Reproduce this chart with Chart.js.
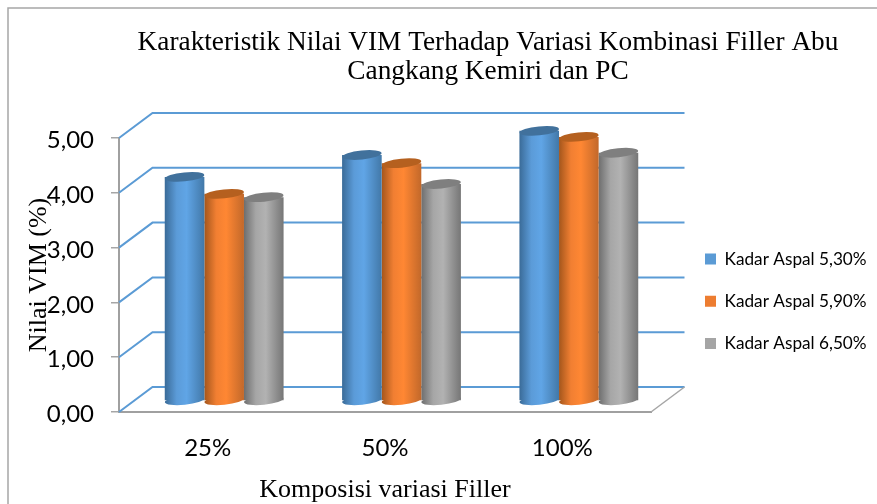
<!DOCTYPE html>
<html>
<head>
<meta charset="utf-8">
<script src="https://cdn.jsdelivr.net/npm/chart.js@4"></script>
<style>
  html, body { margin: 0; padding: 0; background: #fff; }
  canvas { display: block; }
</style>
</head>
<body>
<canvas id="ch-vim" width="877" height="504"></canvas>
<script>
const categories = ['25%', '50%', '100%'];
const seriesNames = ['Kadar Aspal 5,30%', 'Kadar Aspal 5,90%', 'Kadar Aspal 6,50%'];
const aspal530 = [4.09, 4.49, 4.93];
const aspal590 = [3.78, 4.34, 4.82];
const aspal650 = [3.72, 3.96, 4.53];
const yTickLabels = ['0,00', '1,00', '2,00', '3,00', '4,00', '5,00'];

const flatColors = ['#5b9bd5', '#ed7d31', '#a5a5a5'];
const capColors = ['#41719c', '#b5601f', '#7f7f7f'];
const cylStops = [
  ['#3a6b98', '#5b9bd8', '#60a5e6', '#4278a8'],
  ['#a4561c', '#f17f32', '#ff8733', '#c2682a'],
  ['#6e6e6e', '#a6a6a6', '#b2b2b2', '#767676'],
];
const CAT_PCT = 0.67;
const DEPTH_X = 33.5, DEPTH_Y = -25;   // back wall offset
const BAR_DX = 16.5, BAR_DY = -11;     // bars stand mid floor
const SERIF = '"Liberation Serif", serif';
const SANS = 'Lato, sans-serif';

function cylFill(ctx, left, width, i) {
  const g = ctx.createLinearGradient(left, 0, left + width, 0);
  const s = cylStops[i];
  g.addColorStop(0, s[0]);
  g.addColorStop(0.3, s[1]);
  g.addColorStop(0.55, s[2]);
  g.addColorStop(1, s[3]);
  return g;
}

function barFill(c) {
  if (c.dataIndex === undefined) return flatColors[c.datasetIndex];
  const xs = c.chart.scales.x;
  const w = xs.width / categories.length * CAT_PCT / seriesNames.length;
  const left = xs.getPixelForValue(c.dataIndex) + (c.datasetIndex - 1.5) * w;
  return cylFill(c.chart.ctx, left, w, c.datasetIndex);
}

function makeDataset(label, data) {
  return { label, data, backgroundColor: barFill, categoryPercentage: CAT_PCT, barPercentage: 1, clip: false };
}

const wall = {
  id: 'wall',
  afterLayout(chart) {
    // title sits over the plot, legend sits right of the back wall
    chart.titleBlock.left = 128;
    chart.titleBlock.right = 848;
    const lg = chart.legend;
    const w = lg.width, h = lg.height;
    lg.left = 680; lg.right = lg.left + w;
    lg.top = 225.5; lg.bottom = lg.top + h;
  },
  beforeDraw(chart) {
    const ctx = chart.ctx;
    ctx.save();
    ctx.fillStyle = '#fff';
    ctx.fillRect(0, 0, chart.width, chart.height);
    ctx.strokeStyle = '#a6a6a6';
    ctx.lineWidth = 1.5;
    ctx.beginPath();
    ctx.moveTo(8, chart.height);
    ctx.lineTo(8, 8);
    ctx.lineTo(chart.width, 8);
    ctx.stroke();
    ctx.restore();
  },
  beforeDatasetsDraw(chart) {
    const ctx = chart.ctx;
    const { left, right, bottom } = chart.chartArea;
    ctx.save();
    ctx.strokeStyle = '#5b9bd5';
    ctx.lineWidth = 2;
    chart.scales.y.ticks.forEach(t => {
      const y = chart.scales.y.getPixelForValue(t.value);
      ctx.beginPath();
      ctx.moveTo(left, y);
      ctx.lineTo(left + DEPTH_X, y + DEPTH_Y);
      ctx.lineTo(right + DEPTH_X, y + DEPTH_Y);
      ctx.stroke();
    });
    ctx.strokeStyle = '#a6a6a6';
    ctx.lineWidth = 1.5;
    ctx.beginPath();
    ctx.moveTo(right, bottom);
    ctx.lineTo(right + DEPTH_X, bottom + DEPTH_Y);
    ctx.stroke();
    ctx.restore();
    ctx.save();
    ctx.translate(BAR_DX, BAR_DY);
  },
  afterDatasetsDraw(chart) {
    chart.ctx.restore();
  },
  beforeDatasetDraw(chart, args) {
    const ctx = chart.ctx;
    args.meta.data.forEach(el => {
      ctx.fillStyle = cylFill(ctx, el.x - el.width / 2, el.width, args.index);
      ctx.beginPath();
      ctx.ellipse(el.x, el.base, el.width / 2, 4.5, -0.1, 0, Math.PI * 2);
      ctx.fill();
    });
  },
  afterDatasetDraw(chart, args) {
    const ctx = chart.ctx;
    args.meta.data.forEach(el => {
      ctx.fillStyle = capColors[args.index];
      ctx.beginPath();
      ctx.ellipse(el.x, el.y, el.width / 2, 4.5, -0.1, 0, Math.PI * 2);
      ctx.fill();
    });
  },
};

new Chart(document.getElementById('ch-vim'), {
  type: 'bar',
  data: {
    labels: categories,
    datasets: [
      makeDataset(seriesNames[0], aspal530),
      makeDataset(seriesNames[1], aspal590),
      makeDataset(seriesNames[2], aspal650),
    ],
  },
  plugins: [wall],
  options: {
    responsive: false,
    animation: false,
    layout: { padding: { left: 0, right: 226, top: 0, bottom: 0 } },
    plugins: {
      tooltip: { enabled: false },
      title: {
        display: true,
        text: ['Karakteristik Nilai VIM Terhadap Variasi Kombinasi Filler Abu', 'Cangkang Kemiri dan PC'],
        color: '#000',
        font: { family: SERIF, size: 27.3, weight: 'normal', lineHeight: 1.07 },
        padding: { top: 28, bottom: 51.6 },
      },
      legend: {
        position: 'chartArea',
        align: 'start',
        labels: {
          boxWidth: 11,
          boxHeight: 11,
          padding: 25,
          color: '#000',
          font: { family: SANS, size: 17.2 },
          generateLabels: () => seriesNames.map((text, i) => ({
            text, fillStyle: flatColors[i], strokeStyle: flatColors[i], lineWidth: 0, datasetIndex: i,
          })),
        },
      },
    },
    scales: {
      x: {
        grid: { display: false },
        border: { color: '#a0a0a0', width: 2 },
        ticks: { color: '#000', padding: 14, font: { family: SANS, size: 24 } },
        title: {
          display: true,
          text: 'Komposisi variasi Filler',
          color: '#000',
          font: { family: SERIF, size: 26, lineHeight: 1 },
          padding: { top: 0, bottom: 0.6 },
        },
        afterFit(s) { s.height = 92; },
      },
      y: {
        min: 0,
        max: 5,
        grid: { drawOnChartArea: false, tickLength: 8, color: '#a6a6a6', lineWidth: 1.5 },
        border: { color: '#a0a0a0', width: 2 },
        ticks: {
          stepSize: 1,
          color: '#000',
          padding: 17,
          labelOffset: 2.5,
          font: { family: SANS, size: 24 },
          callback: (v, i) => yTickLabels[i],
        },
        title: {
          display: true,
          text: 'Nilai VIM (%)',
          color: '#000',
          font: { family: SERIF, size: 26 },
          padding: { top: 24, bottom: 0 },
        },
        afterFit(s) { s.width = 119; },
      },
    },
  },
});
</script>
</body>
</html>
